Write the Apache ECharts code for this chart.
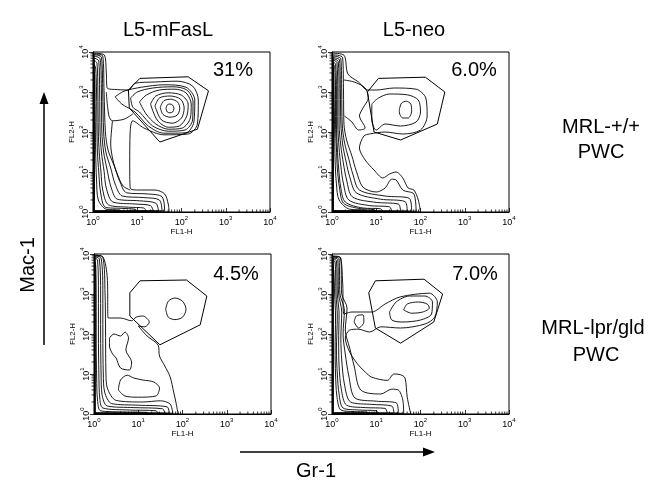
<!DOCTYPE html>
<html>
<head>
<meta charset="utf-8">
<script src="https://cdn.jsdelivr.net/npm/echarts@6/dist/echarts.min.js"></script>
<style>
  html, body { margin: 0; padding: 0; background: #fff; }
  #chart { width: 650px; height: 483px; }
</style>
</head>
<body>
<div id="chart"></div>
<script>
// all coordinates below are in decades (log10 of the channel value), axes run 10^0 .. 10^4
const decadeTicks = [0, 1, 2, 3, 4];
const minorSteps = [0.301, 0.477, 0.602, 0.699, 0.778, 0.845, 0.903, 0.954]; // log10 of 2..9
const columnTitles = ['L5-mFasL', 'L5-neo'];
const rowTitles = [['MRL-+/+', 'PWC'], ['MRL-lpr/gld', 'PWC']];
const gatePercents = ['31%', '6.0%', '4.5%', '7.0%'];

// ---- top left: L5-mFasL / MRL-+/+
const tlGate = [[0.8,3.05],[1.06,3.34],[2.15,3.38],[2.61,3.03],[2.36,2.07],[1.51,1.75],[0.82,2.6],[0.8,3.05]];
const tlPop = [
  [[1.65,2.59],[1.68,2.68],[1.74,2.7],[1.8,2.67],[1.83,2.59],[1.8,2.5],[1.74,2.48],[1.68,2.5],[1.65,2.59]],
  [[1.52,2.62],[1.6,2.78],[1.76,2.82],[1.92,2.74],[1.96,2.58],[1.9,2.42],[1.74,2.37],[1.58,2.44],[1.52,2.62]],
  [[1.4,2.65],[1.5,2.85],[1.74,2.9],[1.98,2.82],[2.06,2.6],[2.0,2.35],[1.8,2.22],[1.55,2.3],[1.4,2.65]],
  [[1.3,2.7],[1.42,2.9],[1.7,2.98],[2.0,2.92],[2.15,2.7],[2.12,2.4],[1.95,2.15],[1.7,2.12],[1.45,2.3],[1.3,2.7]],
  [[1.05,2.75],[1.2,2.92],[1.5,3.05],[1.85,3.07],[2.1,2.98],[2.22,2.7],[2.2,2.35],[2.02,2.1],[1.7,2.07],[1.42,2.2],[1.2,2.45],[1.05,2.75]],
  [[0.85,2.85],[1.0,3.0],[1.35,3.1],[1.8,3.13],[2.12,3.05],[2.26,2.75],[2.25,2.3],[2.08,2.05],[1.7,2.02],[1.35,2.15],[1.05,2.5],[0.9,2.62],[0.85,2.85]],
  [[0.5,2.88],[0.7,3.02],[1.1,3.12],[1.6,3.18],[2.1,3.12],[2.3,2.8],[2.28,2.25],[2.1,1.98],[1.6,1.97],[1.25,2.15],[0.95,2.5],[0.65,2.7],[0.5,2.88]]
];
const tlBand = [
  [[0.02,3.5],[0.04,3.4],[0.05,2.5],[0.06,1.5],[0.08,0.8],[0.12,0.3],[0.3,0.07],[0.6,0.05],[0.62,0.02],[0.02,0.02],[0.02,3.5]],
  [[0.02,3.7],[0.06,3.6],[0.08,3.0],[0.09,2.0],[0.1,1.5],[0.13,1.0],[0.17,0.5],[0.28,0.12],[0.65,0.09],[0.95,0.07],[1.0,0.02],[0.02,0.02],[0.02,3.7]],
  [[0.02,3.8],[0.09,3.72],[0.11,3.0],[0.12,2.0],[0.14,1.5],[0.18,1.0],[0.22,0.55],[0.35,0.18],[0.8,0.12],[1.15,0.1],[1.2,0.03],[0.02,0.02],[0.02,3.8]],
  [[0.02,3.85],[0.13,3.78],[0.15,3.0],[0.16,2.0],[0.19,1.5],[0.25,1.02],[0.3,0.6],[0.45,0.25],[0.95,0.2],[1.3,0.16],[1.36,0.03],[0.02,0.02],[0.02,3.85]],
  [[0.02,3.9],[0.16,3.83],[0.19,3.0],[0.2,2.0],[0.24,1.5],[0.32,1.05],[0.4,0.65],[0.55,0.32],[1.05,0.28],[1.42,0.22],[1.48,0.03],[0.02,0.02],[0.02,3.9]],
  [[0.02,3.93],[0.19,3.87],[0.22,3.0],[0.24,2.0],[0.29,1.5],[0.4,1.1],[0.5,0.7],[0.66,0.4],[1.15,0.36],[1.5,0.3],[1.56,0.03],[0.02,0.02],[0.02,3.93]],
  [[0.02,3.95],[0.22,3.9],[0.25,3.0],[0.28,2.0],[0.34,1.55],[0.48,1.15],[0.6,0.78],[0.76,0.48],[1.25,0.45],[1.56,0.38],[1.62,0.03],[0.02,0.02],[0.02,3.95]],
  [[0.3,3.0],[0.36,2.4],[0.44,2.28],[0.7,2.32],[0.9,2.45]],
  [[0.44,2.28],[0.4,1.7],[0.45,1.3],[0.55,0.95],[0.68,0.65],[0.84,0.55]]
];
const tlOuter = [[0.01,3.97],[0.25,3.93],[0.3,3.5],[0.32,3.1],[0.55,3.06],[0.8,3.05],[0.95,3.22],[1.4,3.25],[1.9,3.27],[2.25,3.15],[2.38,2.8],[2.36,2.2],[2.15,1.95],[1.6,1.93],[1.15,2.1],[0.9,2.28],[0.84,2.0],[0.83,1.2],[0.84,0.6],[1.0,0.55],[1.4,0.55],[1.62,0.45],[1.7,0.2],[1.72,0.0],[0.01,0.0],[0.01,3.97]];

// ---- top right: L5-neo / MRL-+/+
const trGate = [[0.8,3.0],[1.05,3.34],[2.11,3.37],[2.55,3.0],[2.38,2.2],[1.55,1.8],[0.95,2.0],[0.8,3.0]];
const trPop = [
  [[1.52,2.55],[1.57,2.72],[1.68,2.77],[1.78,2.7],[1.8,2.52],[1.72,2.35],[1.6,2.35],[1.53,2.45],[1.52,2.55]],
  [[0.9,2.7],[1.05,2.85],[1.3,2.95],[1.7,2.93],[1.95,2.8],[2.0,2.5],[1.9,2.25],[1.55,2.15],[1.2,2.2],[1.0,2.05],[0.9,2.3],[0.9,2.7]]
];
const trBand = [
  [[0.02,3.6],[0.04,3.5],[0.05,2.8],[0.06,2.0],[0.07,1.3],[0.1,0.7],[0.16,0.3],[0.4,0.07],[0.75,0.05],[0.78,0.02],[0.02,0.02],[0.02,3.6]],
  [[0.02,3.7],[0.06,3.64],[0.08,3.0],[0.08,2.2],[0.1,1.6],[0.12,1.1],[0.17,0.6],[0.26,0.22],[0.6,0.09],[0.95,0.06],[0.98,0.02],[0.02,0.02],[0.02,3.7]],
  [[0.02,3.75],[0.08,3.7],[0.1,3.0],[0.1,2.2],[0.12,1.6],[0.15,1.1],[0.2,0.6],[0.3,0.25],[0.7,0.1],[1.1,0.08],[1.15,0.02],[0.02,0.02],[0.02,3.75]],
  [[0.02,3.8],[0.11,3.74],[0.13,3.0],[0.13,2.2],[0.16,1.6],[0.2,1.15],[0.26,0.7],[0.38,0.3],[0.85,0.16],[1.3,0.13],[1.35,0.02],[0.02,0.02],[0.02,3.8]],
  [[0.02,3.83],[0.14,3.77],[0.16,3.0],[0.16,2.2],[0.2,1.65],[0.26,1.2],[0.33,0.8],[0.46,0.38],[1.0,0.24],[1.5,0.2],[1.55,0.02],[0.02,0.02],[0.02,3.83]],
  [[0.02,3.86],[0.17,3.8],[0.19,3.0],[0.2,2.2],[0.24,1.7],[0.32,1.25],[0.4,0.88],[0.55,0.48],[1.1,0.32],[1.65,0.26],[1.7,0.02],[0.02,0.02],[0.02,3.86]],
  [[0.02,3.9],[0.2,3.83],[0.22,3.0],[0.23,2.2],[0.28,1.75],[0.38,1.32],[0.47,0.95],[0.62,0.55],[1.2,0.4],[1.75,0.34],[1.8,0.02],[0.02,0.02],[0.02,3.9]],
  [[0.02,3.93],[0.24,3.86],[0.26,3.0],[0.27,2.2],[0.33,1.8],[0.45,1.4],[0.55,1.02],[0.7,0.62],[1.0,0.5],[1.2,0.6],[1.35,0.82],[1.45,0.8],[1.6,0.55],[1.85,0.45],[1.9,0.02],[0.02,0.02],[0.02,3.93]],
  [[0.27,3.3],[0.5,3.25],[0.75,3.1],[0.82,2.85],[0.7,2.6],[0.62,2.4],[0.75,2.1],[0.6,2.05],[0.45,2.25],[0.28,2.4]]
];
const trOuter = [[0.01,3.97],[0.27,3.92],[0.36,3.45],[0.6,3.25],[0.8,3.05],[1.0,3.05],[1.4,3.1],[1.9,3.07],[2.12,2.85],[2.15,2.4],[2.0,2.05],[1.6,1.95],[1.2,2.0],[0.85,1.95],[0.72,1.9],[0.62,1.6],[0.75,1.3],[0.95,1.05],[1.15,0.85],[1.3,0.95],[1.45,1.0],[1.6,0.85],[1.72,0.6],[1.85,0.55],[1.95,0.3],[2.0,0.0],[0.01,0.0],[0.01,3.97]];

// ---- bottom left: L5-mFasL / MRL-lpr/gld
const blGate = [[0.81,3.03],[1.04,3.33],[2.09,3.35],[2.55,2.95],[2.4,2.23],[1.49,1.73],[0.81,2.45],[0.81,3.03]];
const blPop = [
  [[1.62,2.62],[1.68,2.82],[1.83,2.9],[2.0,2.82],[2.08,2.62],[2.0,2.42],[1.83,2.36],[1.68,2.42],[1.62,2.62]]
];
const blBand = [
  [[0.02,3.8],[0.04,3.7],[0.05,2.8],[0.05,1.8],[0.06,0.9],[0.08,0.35],[0.15,0.08],[0.7,0.05],[1.2,0.04],[1.22,0.02],[0.02,0.02],[0.02,3.8]],
  [[0.02,3.9],[0.08,3.85],[0.1,3.0],[0.1,2.0],[0.11,1.0],[0.13,0.4],[0.2,0.15],[0.8,0.1],[1.4,0.08],[1.45,0.02],[0.02,0.02],[0.02,3.9]],
  [[0.02,3.93],[0.12,3.88],[0.15,3.0],[0.15,2.0],[0.16,1.0],[0.18,0.5],[0.3,0.2],[0.9,0.16],[1.55,0.13],[1.6,0.02],[0.02,0.02],[0.02,3.93]],
  [[0.02,3.95],[0.16,3.9],[0.2,3.0],[0.2,2.0],[0.21,1.0],[0.24,0.55],[0.4,0.26],[1.0,0.22],[1.65,0.18],[1.7,0.02],[0.02,0.02],[0.02,3.95]],
  [[0.02,3.97],[0.2,3.92],[0.25,3.0],[0.26,2.2],[0.27,1.0],[0.3,0.65],[0.5,0.34],[1.1,0.3],[1.5,0.33],[1.72,0.25],[1.78,0.02],[0.02,0.02],[0.02,3.97]],
  [[0.35,1.9],[0.45,2.0],[0.6,1.95],[0.7,2.05],[0.78,1.9],[0.72,1.6],[0.85,1.3],[0.8,1.1],[0.6,1.15],[0.5,1.4],[0.42,1.5],[0.35,1.7],[0.35,1.9]],
  [[0.55,0.6],[0.6,0.85],[0.75,0.97],[0.9,0.9],[1.1,0.85],[1.35,0.8],[1.48,0.65],[1.4,0.45],[1.0,0.42],[0.7,0.45],[0.55,0.6]]
];
const blOuter = [[0.01,3.97],[0.2,3.93],[0.3,3.4],[0.32,2.4],[0.6,2.4],[0.85,2.33],[0.95,2.42],[1.1,2.45],[1.25,2.3],[1.15,2.18],[1.0,2.2],[1.2,1.95],[1.45,1.72],[1.48,1.45],[1.6,1.2],[1.72,0.93],[1.8,0.55],[1.85,0.3],[1.9,0.0],[0.01,0.0],[0.01,3.97]];

// ---- bottom right: L5-neo / MRL-lpr/gld
const brGate = [[0.83,3.03],[0.98,3.33],[2.08,3.37],[2.5,3.0],[2.3,2.3],[1.55,1.77],[0.98,2.15],[0.83,3.03]];
const brPop = [
  [[1.62,2.6],[1.7,2.75],[1.95,2.8],[2.15,2.75],[2.2,2.65],[2.05,2.55],[1.8,2.52],[1.62,2.6]],
  [[1.3,2.55],[1.45,2.8],[1.75,2.95],[2.1,2.95],[2.27,2.8],[2.25,2.5],[2.0,2.35],[1.6,2.3],[1.35,2.35],[1.3,2.55]],
  [[0.5,2.3],[0.55,2.45],[0.7,2.48],[0.72,2.3],[0.6,2.15],[0.5,2.3]]
];
const brBand = [
  [[0.02,3.7],[0.04,3.6],[0.06,3.0],[0.08,2.45],[0.07,1.6],[0.08,1.0],[0.11,0.45],[0.2,0.1],[0.5,0.06],[0.8,0.05],[0.82,0.02],[0.02,0.02],[0.02,3.7]],
  [[0.02,3.85],[0.07,3.8],[0.09,3.0],[0.12,2.45],[0.1,1.6],[0.12,1.0],[0.16,0.5],[0.25,0.15],[0.6,0.1],[1.0,0.08],[1.05,0.02],[0.02,0.02],[0.02,3.85]],
  [[0.02,3.88],[0.1,3.83],[0.12,3.0],[0.16,2.5],[0.15,1.8],[0.16,1.2],[0.21,0.62],[0.33,0.22],[0.75,0.16],[1.2,0.14],[1.25,0.02],[0.02,0.02],[0.02,3.88]],
  [[0.02,3.9],[0.13,3.86],[0.15,3.0],[0.22,2.55],[0.2,1.9],[0.22,1.35],[0.28,0.75],[0.42,0.3],[0.9,0.24],[1.35,0.2],[1.4,0.02],[0.02,0.02],[0.02,3.9]],
  [[0.02,3.92],[0.16,3.88],[0.18,3.0],[0.28,2.6],[0.25,2.0],[0.3,1.5],[0.38,0.95],[0.52,0.4],[1.0,0.32],[1.45,0.28],[1.5,0.02],[0.02,0.02],[0.02,3.92]],
  [[0.02,3.94],[0.2,3.9],[0.22,3.0],[0.34,2.65],[0.3,2.1],[0.4,1.65],[0.5,1.2],[0.65,0.6],[1.1,0.5],[1.35,0.62],[1.5,0.6],[1.6,0.35],[1.62,0.02],[0.02,0.02],[0.02,3.94]]
];
const brOuter = [[0.01,3.95],[0.18,3.92],[0.24,3.3],[0.27,2.5],[0.45,2.55],[0.65,2.55],[0.9,2.55],[1.2,2.75],[1.55,2.93],[2.2,3.02],[2.38,2.8],[2.32,2.42],[2.1,2.25],[1.55,2.15],[1.1,2.18],[0.85,2.05],[0.6,2.12],[0.4,2.1],[0.3,1.9],[0.4,1.55],[0.57,1.26],[0.75,1.05],[0.9,0.92],[1.25,0.84],[1.4,1.0],[1.55,0.98],[1.65,0.9],[1.7,0.42],[1.78,0.0],[0.01,0.0],[0.01,3.95]];

const panels = [
  { gate: tlGate, lines: [tlOuter].concat(tlBand, tlPop) },
  { gate: trGate, lines: [trOuter].concat(trBand, trPop) },
  { gate: blGate, lines: [blOuter].concat(blBand, blPop) },
  { gate: brGate, lines: [brOuter].concat(brBand, brPop) }
];

const FONT = '"Liberation Sans", Arial, sans-serif';
const grids = [
  { left: 93, top: 52, width: 177, height: 160 },
  { left: 332, top: 52, width: 177, height: 160 },
  { left: 94, top: 254, width: 177, height: 160 },
  { left: 332, top: 254, width: 177, height: 160 }
];

const powRich = {
  b: { fontSize: 9, fontFamily: FONT, color: '#000', lineHeight: 12, verticalAlign: 'bottom' },
  s: { fontSize: 6, fontFamily: FONT, color: '#000', lineHeight: 12, verticalAlign: 'top' }
};
function powLabel(v) { return '{b|10}{s|' + v + '}'; }

function makeAxis(gi, dir) {
  return {
    gridIndex: gi,
    type: 'value',
    min: 0, max: 4, interval: 1,
    name: dir === 'x' ? 'FL1-H' : 'FL2-H',
    nameLocation: 'middle',
    nameGap: dir === 'x' ? 16 : 17,
    nameTextStyle: { fontSize: 8, fontFamily: FONT, color: '#000' },
    axisLine: { lineStyle: { color: '#000', width: 1 } },
    axisTick: { inside: dir === 'x', length: 4, lineStyle: { color: '#000', width: 0.8 } },
    splitLine: { show: false },
    axisLabel: {
      formatter: powLabel, rich: powRich, margin: 3,
      rotate: dir === 'y' ? 90 : 0,
      showMinLabel: true, showMaxLabel: true
    }
  };
}

// minor log ticks: [0 = x axis / 1 = y axis, position]
const minorData = [];
decadeTicks.slice(0, 4).forEach(d => minorSteps.forEach(m => {
  minorData.push([0, d + m]);
  minorData.push([1, d + m]);
}));

function minorRender(params, api) {
  const f = api.value(0), p = api.value(1);
  if (f === 0) {
    const c = api.coord([p, 0]);
    return { type: 'line', shape: { x1: c[0], y1: c[1], x2: c[0], y2: c[1] - 2.5 }, style: { stroke: '#000', lineWidth: 0.8 } };
  }
  const c = api.coord([0, p]);
  return { type: 'line', shape: { x1: c[0] - 2.5, y1: c[1], x2: c[0], y2: c[1] }, style: { stroke: '#000', lineWidth: 0.8 } };
}

const series = [];
panels.forEach((pn, gi) => {
  pn.lines.forEach(pts => {
    series.push({
      type: 'line', xAxisIndex: gi, yAxisIndex: gi, data: pts,
      symbol: 'none', smooth: 0.3, silent: true,
      lineStyle: { color: '#000', width: 0.9 }
    });
  });
  series.push({
    type: 'line', xAxisIndex: gi, yAxisIndex: gi, data: pn.gate,
    symbol: 'none', smooth: false, silent: true,
    lineStyle: { color: '#000', width: 1 }
  });
  series.push({
    type: 'custom', xAxisIndex: gi, yAxisIndex: gi, data: minorData,
    renderItem: minorRender, clip: false, silent: true
  });
});

function txt(x, y, text, size, rot) {
  return {
    type: 'text', x: x, y: y, rotation: rot || 0, silent: true,
    style: { text: text, font: size + 'px ' + FONT, fill: '#000', textAlign: 'center', textVerticalAlign: 'middle' }
  };
}

const graphic = [
  txt(168, 30, columnTitles[0], 20),
  txt(414, 30, columnTitles[1], 20),
  txt(601, 127, rowTitles[0][0], 20),
  txt(601, 152, rowTitles[0][1], 20),
  txt(593, 328, rowTitles[1][0], 20),
  txt(596, 355, rowTitles[1][1], 20),
  txt(233, 70, gatePercents[0], 20),
  txt(474, 70, gatePercents[1], 20),
  txt(236, 274, gatePercents[2], 20),
  txt(475, 274, gatePercents[3], 20),
  txt(28, 265, 'Mac-1', 20, Math.PI / 2),
  txt(316, 471, 'Gr-1', 20),
  // Mac-1 arrow
  { type: 'line', silent: true, shape: { x1: 44, y1: 345, x2: 44, y2: 102 }, style: { stroke: '#000', lineWidth: 1.5 } },
  { type: 'polygon', silent: true, shape: { points: [[39.5, 104], [48.5, 104], [44, 92]] }, style: { fill: '#000' } },
  // Gr-1 arrow
  { type: 'line', silent: true, shape: { x1: 240, y1: 452, x2: 425, y2: 452 }, style: { stroke: '#000', lineWidth: 1.5 } },
  { type: 'polygon', silent: true, shape: { points: [[423, 447.5], [423, 456.5], [435, 452]] }, style: { fill: '#000' } }
];

const myChart = echarts.init(document.getElementById('chart'), null, { renderer: 'canvas' });
myChart.setOption({
  animation: false,
  backgroundColor: '#fff',
  grid: grids.map(g => Object.assign({ show: true, borderColor: '#000', borderWidth: 1, backgroundColor: 'transparent' }, g)),
  xAxis: grids.map((g, i) => makeAxis(i, 'x')),
  yAxis: grids.map((g, i) => makeAxis(i, 'y')),
  series: series,
  graphic: graphic
});
</script>
</body>
</html>
